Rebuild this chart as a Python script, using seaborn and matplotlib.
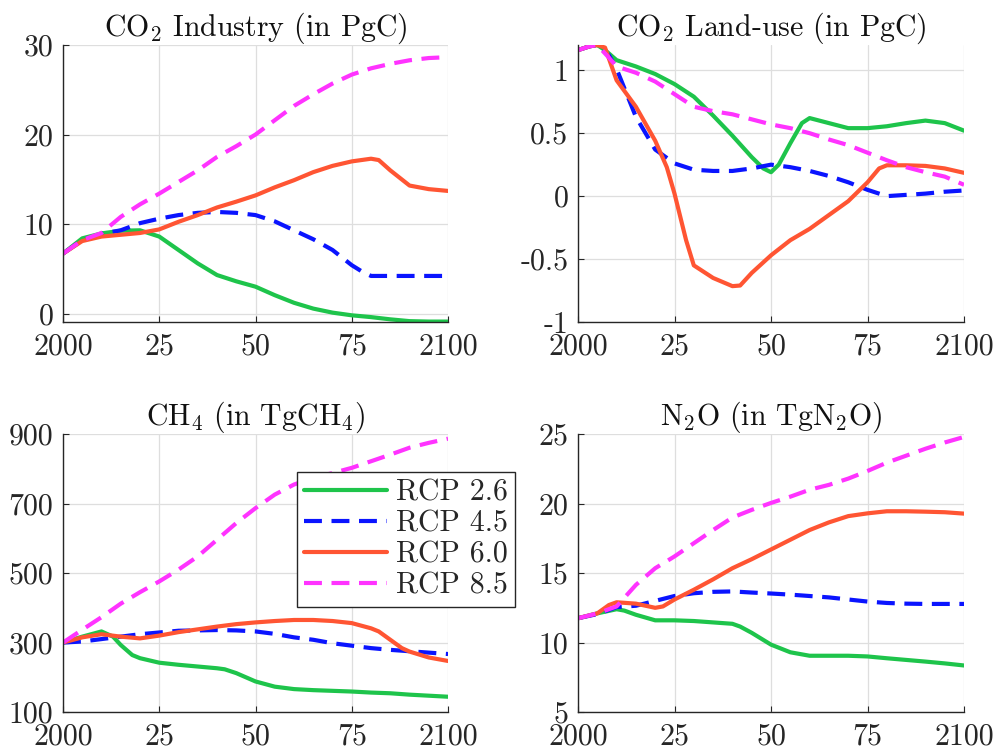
import numpy as np
import pandas as pd
import matplotlib
matplotlib.use('Agg')
import matplotlib.pyplot as plt
import seaborn as sns

scenarios = ['RCP 2.6', 'RCP 4.5', 'RCP 6.0', 'RCP 8.5']

# common year grid (every 5 years); a few series carry extra points near sharp bends
years = list(range(2000, 2101, 5))

# CO2 industry (PgC)
co2_ind_26 = [6.7, 8.4, 8.95, 9.25, 9.3, 8.6, 7.1, 5.6, 4.3, 3.6, 3.0, 2.05, 1.2, 0.55, 0.1, -0.2, -0.4, -0.65, -0.85, -0.9, -0.9]
co2_ind_45_years = years[:16] + [2078] + years[16:]
co2_ind_45 = [6.7, 8.2, 8.9, 9.3, 10.1, 10.6, 11.0, 11.25, 11.35, 11.25, 11.0, 10.3, 9.3, 8.3, 7.1, 5.4, 4.6, 4.2, 4.2, 4.2, 4.2, 4.2]
co2_ind_60_years = years[:17] + [2082] + years[17:]
co2_ind_60 = [6.7, 8.1, 8.6, 8.8, 9.0, 9.4, 10.25, 11.0, 11.85, 12.5, 13.2, 14.1, 14.9, 15.8, 16.5, 17.0, 17.3, 17.15, 16.0, 14.3, 13.9, 13.7]
co2_ind_85 = [6.7, 8.2, 9.0, 10.8, 12.2, 13.4, 14.7, 16.0, 17.5, 18.7, 20.0, 21.6, 23.2, 24.5, 25.7, 26.7, 27.4, 27.9, 28.3, 28.55, 28.65]

# CO2 land-use (PgC)
co2_lu_26_years = [2000, 2003, 2005, 2007, 2010, 2015, 2020, 2025, 2030, 2035, 2040, 2045, 2048, 2050, 2052, 2055, 2058, 2060,
                   2065, 2070, 2075, 2080, 2085, 2090, 2095, 2100]
co2_lu_26 = [1.16, 1.19, 1.2, 1.16, 1.08, 1.03, 0.97, 0.89, 0.79, 0.64, 0.48, 0.31, 0.22, 0.19, 0.25, 0.42, 0.58, 0.62,
             0.58, 0.54, 0.54, 0.555, 0.58, 0.6, 0.58, 0.52]
co2_lu_45_years = [2000, 2003, 2005, 2008, 2010, 2015, 2020, 2025, 2030, 2035, 2040, 2045, 2050, 2055, 2060,
                   2065, 2070, 2075, 2080, 2085, 2090, 2095, 2100]
co2_lu_45 = [1.16, 1.19, 1.2, 1.12, 1.01, 0.63, 0.37, 0.26, 0.21, 0.2, 0.2, 0.22, 0.25, 0.23, 0.2,
             0.16, 0.11, 0.05, 0.0, 0.01, 0.02, 0.035, 0.045]
co2_lu_60_years = [2000, 2003, 2005, 2007, 2010, 2015, 2020, 2023, 2025, 2028, 2030, 2035, 2040, 2042, 2045, 2050, 2055, 2060,
                   2065, 2070, 2075, 2078, 2080, 2085, 2090, 2095, 2100]
co2_lu_60 = [1.16, 1.19, 1.2, 1.18, 0.92, 0.71, 0.44, 0.23, 0.02, -0.35, -0.55, -0.65, -0.715, -0.71, -0.61, -0.47, -0.35, -0.26,
             -0.15, -0.04, 0.11, 0.22, 0.245, 0.245, 0.24, 0.22, 0.185]
co2_lu_85_years = [2000, 2003, 2005, 2008, 2010, 2015, 2020, 2025, 2030, 2035, 2040, 2045, 2050, 2055, 2060,
                   2065, 2070, 2075, 2080, 2085, 2090, 2095, 2100]
co2_lu_85 = [1.16, 1.19, 1.2, 1.1, 1.03, 0.98, 0.91, 0.81, 0.71, 0.675, 0.65, 0.61, 0.57, 0.54, 0.5,
             0.45, 0.405, 0.345, 0.285, 0.23, 0.19, 0.155, 0.09]

# CH4 (TgCH4)
ch4_26_years = [2000, 2005, 2010, 2013, 2015, 2018, 2020, 2025, 2030, 2035, 2040, 2042, 2045, 2050, 2055, 2060,
                2065, 2070, 2075, 2080, 2085, 2090, 2095, 2100]
ch4_26 = [300, 317, 332, 317, 293, 264, 255, 242, 236, 231, 226, 223, 212, 188, 173, 166,
          163, 161, 159, 156, 154, 150, 147, 144]
ch4_45 = [300, 303, 310, 317, 324, 329, 334, 335, 336, 335, 332, 325, 315, 308, 298, 291, 284, 279, 275, 271, 267]
ch4_60_years = years[:17] + [2082] + years[17:18] + [2088] + years[18:]
ch4_60 = [300, 315, 324, 317, 312, 320, 330, 338, 346, 353, 358, 362, 365, 365, 362, 356, 341, 332, 308, 284, 274, 257, 247]
ch4_85 = [300, 337, 373, 412, 445, 476, 510, 548, 596, 644, 687, 726, 755, 774, 788, 803, 822, 841, 861, 875, 887]

# N2O (TgN2O)
n2o_26_years = [2000, 2005, 2010, 2012, 2015, 2020, 2025, 2030, 2035, 2040, 2042, 2045, 2050, 2055, 2060,
                2065, 2070, 2075, 2080, 2085, 2090, 2095, 2100]
n2o_26 = [11.75, 12.1, 12.4, 12.3, 12.0, 11.6, 11.6, 11.55, 11.45, 11.35, 11.15, 10.7, 9.85, 9.3, 9.05,
          9.05, 9.05, 9.0, 8.87, 8.75, 8.63, 8.5, 8.35]
n2o_45 = [11.75, 12.05, 12.55, 12.65, 13.0, 13.35, 13.55, 13.65, 13.68, 13.6, 13.53, 13.45, 13.35, 13.25, 13.1, 12.95, 12.85, 12.8, 12.78, 12.78, 12.78]
n2o_60_years = [2000, 2005, 2008, 2010, 2015, 2020, 2022, 2025, 2030, 2035, 2040, 2045, 2050, 2055, 2060,
                2065, 2070, 2075, 2080, 2085, 2090, 2095, 2100]
n2o_60 = [11.75, 12.1, 12.7, 12.9, 12.8, 12.5, 12.6, 13.1, 13.8, 14.55, 15.35, 16.0, 16.7, 17.4, 18.1,
          18.65, 19.1, 19.3, 19.45, 19.45, 19.42, 19.38, 19.28]
n2o_85 = [11.75, 12.1, 12.6, 14.15, 15.35, 16.2, 17.15, 18.1, 19.0, 19.55, 20.05, 20.5, 21.0, 21.35, 21.8, 22.35, 22.95, 23.45, 23.95, 24.4, 24.8]

titles = ['CO$_2$ Industry (in PgC)', 'CO$_2$ Land-use (in PgC)',
          'CH$_4$ (in TgCH$_4$)', 'N$_2$O (in TgN$_2$O)']
yticks = [[0, 10, 20, 30], [-1, -0.5, 0, 0.5, 1], [100, 300, 500, 700, 900], [5, 10, 15, 20, 25]]
ytick_labels = [['0', '10', '20', '30'], ['-1', '-0.5', '0', '0.5', '1'],
                ['100', '300', '500', '700', '900'], ['5', '10', '15', '20', '25']]
ylims = [(-0.95, 30), (-1, 1.2), (100, 900), (5, 25)]
xticks = [2000, 2025, 2050, 2075, 2100]
xtick_labels = ['2000', '25', '50', '75', '2100']

panels = [[(years, co2_ind_26), (co2_ind_45_years, co2_ind_45), (co2_ind_60_years, co2_ind_60), (years, co2_ind_85)],
          [(co2_lu_26_years, co2_lu_26), (co2_lu_45_years, co2_lu_45), (co2_lu_60_years, co2_lu_60), (co2_lu_85_years, co2_lu_85)],
          [(ch4_26_years, ch4_26), (years, ch4_45), (ch4_60_years, ch4_60), (years, ch4_85)],
          [(n2o_26_years, n2o_26), (years, n2o_45), (n2o_60_years, n2o_60), (years, n2o_85)]]

palette = {'RCP 2.6': '#1ec44b', 'RCP 4.5': '#0a14ff', 'RCP 6.0': '#ff5533', 'RCP 8.5': '#ff33ff'}
dashes = {'RCP 2.6': '', 'RCP 4.5': (4.3, 2.3), 'RCP 6.0': '', 'RCP 8.5': (4.3, 2.3)}

sns.set_theme(style='white')
plt.rcParams['font.family'] = ['cmr10']
plt.rcParams['mathtext.fontset'] = 'cm'
plt.rcParams['axes.unicode_minus'] = False
plt.rcParams['axes.formatter.use_mathtext'] = True

fig = plt.figure(figsize=(9.95, 7.51), dpi=100)
positions = [[0.0633, 0.5712, 0.387, 0.3688], [0.5809, 0.5712, 0.388, 0.3688],
             [0.0633, 0.0519, 0.387, 0.370], [0.5809, 0.0519, 0.388, 0.370]]

fs = 21.5
axes = []
for i in range(4):
    ax = fig.add_axes(positions[i])
    frames = []
    for s, (yrs, vals) in zip(scenarios, panels[i]):
        frames.append(pd.DataFrame({'year': yrs, 'value': vals, 'scenario': s}))
    df = pd.concat(frames)
    sns.lineplot(data=df, x='year', y='value', hue='scenario', style='scenario',
                 palette=palette, dashes=dashes, linewidth=3.0, ax=ax, legend=False)
    ax.set_xlim(2000, 2100)
    ax.set_ylim(*ylims[i])
    ax.set_xticks(xticks)
    ax.set_xticklabels(xtick_labels)
    ax.set_yticks(yticks[i])
    ax.set_yticklabels(ytick_labels[i])
    ax.set_xlabel('')
    ax.set_ylabel('')
    ax.set_title(titles[i], fontsize=fs, pad=7, color='#111111')
    ax.grid(True, color='#dedede', linewidth=0.9)
    ax.set_axisbelow(True)
    for sp in ['top', 'right']:
        ax.spines[sp].set_visible(False)
    for sp in ['left', 'bottom']:
        ax.spines[sp].set_color('#262626')
        ax.spines[sp].set_linewidth(1.0)
    ax.tick_params(direction='in', length=4, width=0.8, colors='#262626',
                   labelsize=fs, pad=7, left=True, bottom=True)
    ax.tick_params(axis='x', pad=8)
    axes.append(ax)

handles = axes[2].get_lines()[:4]
leg = fig.legend(handles, scenarios, loc='upper left', bbox_to_anchor=(0.2985, 0.3715),
                 fontsize=fs, frameon=True, fancybox=False, framealpha=1,
                 edgecolor='#262626', handlelength=2.75, handletextpad=0.3,
                 labelspacing=0.12, borderpad=0.25, borderaxespad=0)
leg.get_frame().set_linewidth(1.0)

plt.savefig('out.png', dpi=100)
